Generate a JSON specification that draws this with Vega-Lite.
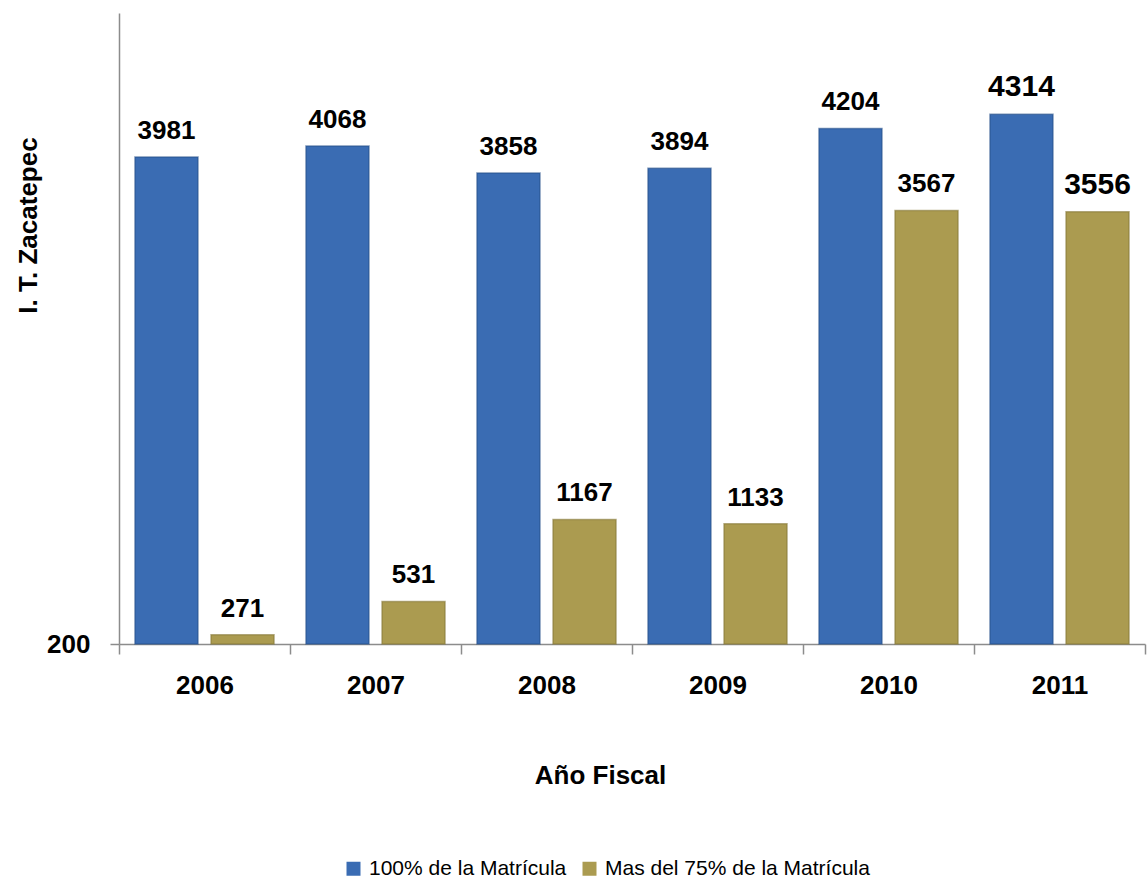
{
  "$schema": "https://vega.github.io/schema/vega-lite/v6.json",
  "width": 1026,
  "height": 631,
  "autosize": "none",
  "padding": {"left": 119, "top": 13, "right": 3, "bottom": 249},
  "background": "white",
  "config": {"font": "Liberation Sans", "view": {"stroke": null}},
  "data": {
    "values": [
      {"year": "2006", "serie": "100% de la Matrícula", "value": 3981},
      {"year": "2006", "serie": "Mas del 75% de la Matrícula", "value": 271},
      {"year": "2007", "serie": "100% de la Matrícula", "value": 4068},
      {"year": "2007", "serie": "Mas del 75% de la Matrícula", "value": 531},
      {"year": "2008", "serie": "100% de la Matrícula", "value": 3858},
      {"year": "2008", "serie": "Mas del 75% de la Matrícula", "value": 1167},
      {"year": "2009", "serie": "100% de la Matrícula", "value": 3894},
      {"year": "2009", "serie": "Mas del 75% de la Matrícula", "value": 1133},
      {"year": "2010", "serie": "100% de la Matrícula", "value": 4204},
      {"year": "2010", "serie": "Mas del 75% de la Matrícula", "value": 3567},
      {"year": "2011", "serie": "100% de la Matrícula", "value": 4314},
      {"year": "2011", "serie": "Mas del 75% de la Matrícula", "value": 3556}
    ]
  },
  "encoding": {
    "x": {
      "field": "year",
      "type": "nominal",
      "scale": {"paddingInner": 0, "paddingOuter": 0},
      "axis": {
        "title": "Año Fiscal",
        "labelAngle": 0,
        "labelFontSize": 26,
        "labelFontWeight": "bold",
        "labelColor": "black",
        "labelPadding": 18,
        "domainColor": "#8c8c8c",
        "domainWidth": 1.5,
        "tickColor": "#8c8c8c",
        "tickWidth": 1.5,
        "tickSize": 10,
        "tickBand": "extent",
        "titleFontSize": 26,
        "titleFontWeight": "bold",
        "titleColor": "black",
        "titleX": 481,
        "titleY": 131,
        "titleBaseline": "middle"
      }
    },
    "xOffset": {
      "field": "serie",
      "type": "nominal",
      "scale": {"paddingInner": 0.171, "paddingOuter": 0.21}
    },
    "y": {
      "field": "value",
      "type": "quantitative",
      "scale": {"domain": [200, 5100], "zero": false, "nice": false},
      "axis": {
        "values": [200],
        "grid": false,
        "title": "I. T. Zacatepec",
        "labelFontSize": 26,
        "labelFontWeight": "bold",
        "labelColor": "black",
        "labelPadding": 20,
        "tickSize": 9,
        "tickColor": "#8c8c8c",
        "tickWidth": 1.5,
        "domainColor": "#8c8c8c",
        "domainWidth": 1.5,
        "titleFontSize": 26,
        "titleFontWeight": "bold",
        "titleColor": "black",
        "titleAngle": -90,
        "titleX": -91,
        "titleY": 212,
        "titleBaseline": "middle",
        "titleAlign": "center"
      }
    }
  },
  "layer": [
    {
      "mark": {"type": "bar", "strokeWidth": 1.5, "strokeOpacity": 0.6},
      "encoding": {
        "y2": {"datum": 200},
        "color": {
          "field": "serie",
          "type": "nominal",
          "scale": {
            "domain": ["100% de la Matrícula", "Mas del 75% de la Matrícula"],
            "range": ["#3A6CB3", "#AB9B50"]
          },
          "legend": {
            "title": null,
            "orient": "none",
            "direction": "horizontal",
            "legendX": 224,
            "legendY": 845,
            "symbolType": "square",
            "symbolSize": 196,
            "symbolStrokeWidth": 0,
            "labelFontSize": 21,
            "labelColor": "black",
            "labelOffset": 5,
            "labelLimit": 500,
            "columnPadding": 12
          }
        },
        "stroke": {
          "field": "serie",
          "type": "nominal",
          "scale": {
            "domain": ["100% de la Matrícula", "Mas del 75% de la Matrícula"],
            "range": ["#27508A", "#857838"]
          },
          "legend": null
        }
      }
    },
    {
      "mark": {"type": "text", "baseline": "alphabetic", "dy": -18, "fontWeight": "bold", "color": "black"},
      "encoding": {
        "text": {"field": "value", "type": "quantitative", "format": "d"},
        "size": {"condition": {"test": "datum.year == '2011'", "value": 30}, "value": 26}
      }
    }
  ]
}
